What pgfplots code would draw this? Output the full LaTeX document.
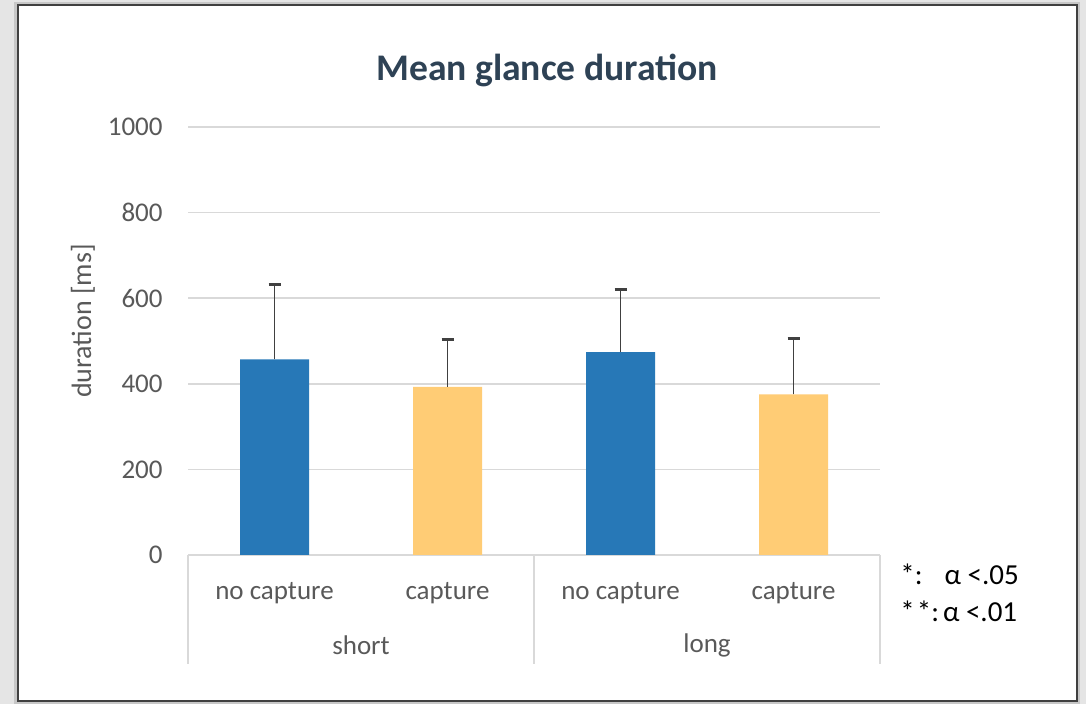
\documentclass[border=0pt]{standalone}
\usepackage{fontspec}
\setmainfont{Carlito}
\usepackage{pgfplots}
\usepackage{pgfplotstable}
\pgfplotsset{compat=1.18}
\definecolor{barblue}{HTML}{2778B7}
\definecolor{baryel}{HTML}{FFCC75}
\definecolor{gridgrey}{HTML}{D9D9D9}
\definecolor{txtgrey}{HTML}{595959}
\definecolor{titlecol}{HTML}{2E4255}
\definecolor{errgrey}{HTML}{404040}
\pgfplotstableread{
x y err
0 457 175
2 474 146
}\nocapture
\pgfplotstableread{
x y err
1 393 110
3 375 131
}\capture
\begin{document}
\begin{tikzpicture}
\useasboundingbox (0,0) rectangle (543pt,352pt);
\fill[black!10] (0,0) rectangle (543pt,352pt);
\fill[black!22] (7pt,0pt) rectangle (540pt,351pt);
\fill[white] (9pt,1.5pt) rectangle (538.5pt,349.5pt);
\draw[line width=1pt, black!75] (9pt,1.5pt) rectangle (538.5pt,349.5pt);
\begin{axis}[
  at={(94pt,74.5pt)}, anchor=south west,
  scale only axis, width=346pt, height=214pt,
  xmin=-0.5, xmax=3.5, ymin=0, ymax=1000,
  ytick={0,200,...,1000},
  xtick={0,1,2,3},
  xticklabels={no capture, capture, no capture, capture},
  axis line style={draw=none},
  major tick length=0pt,
  ymajorgrids,
  major grid style={gridgrey, line width=0.8pt},
  ybar, bar width=34.5pt,
  /pgf/number format/assume math mode=true,
  /pgf/number format/1000 sep={},
  ticklabel style={font=\fontsize{13.5pt}{16pt}\selectfont, text=txtgrey},
  yticklabel style={anchor=east, inner sep=0pt, xshift=-12.5pt},
  xticklabel style={anchor=center, inner sep=0pt, yshift=-19pt},
  clip=false,
]
\addplot[fill=barblue, draw=none, bar shift=0pt,
  error bars/.cd, y dir=plus, y explicit,
  error bar style={errgrey, line width=0.9pt},
  error mark options={errgrey, line width=1.3pt, mark size=3pt, rotate=90}]
  table[x=x, y=y, y error=err] {\nocapture};
\addplot[fill=baryel, draw=none, bar shift=0pt,
  error bars/.cd, y dir=plus, y explicit,
  error bar style={errgrey, line width=0.9pt},
  error mark options={errgrey, line width=1.3pt, mark size=3pt, rotate=90}]
  table[x=x, y=y, y error=err] {\capture};
\draw[gridgrey, line width=0.8pt] (axis cs:-0.5,0) -- ([yshift=-54.5pt]axis cs:-0.5,0);
\draw[gridgrey, line width=0.8pt] (axis cs:1.5,0) -- ([yshift=-54.5pt]axis cs:1.5,0);
\draw[gridgrey, line width=0.8pt] (axis cs:3.5,0) -- ([yshift=-54.5pt]axis cs:3.5,0);
\node[text=txtgrey, font=\fontsize{13.5pt}{16pt}\selectfont] at ([yshift=-45pt]axis cs:0.5,0) {short};
\node[text=txtgrey, font=\fontsize{13.5pt}{16pt}\selectfont] at ([yshift=-45pt]axis cs:2.5,0) {long};
\end{axis}
\node[text=titlecol, font=\fontsize{18.8pt}{22pt}\selectfont\bfseries] at (273.5pt,317pt) {Mean glance duration};
\node[rotate=90, text=txtgrey, font=\fontsize{14pt}{16pt}\selectfont] at (41.5pt,191.5pt) {duration [ms]};
\node[anchor=west, inner sep=0pt, font=\fontsize{14.5pt}{17pt}\selectfont] at (450pt,65pt) {*:\hspace{11pt}α <.05};
\node[anchor=west, inner sep=0pt, font=\fontsize{14.5pt}{17pt}\selectfont] at (450pt,46.5pt) {*\kern1pt*:\kern2pt α <.01};
\end{tikzpicture}
\end{document}
